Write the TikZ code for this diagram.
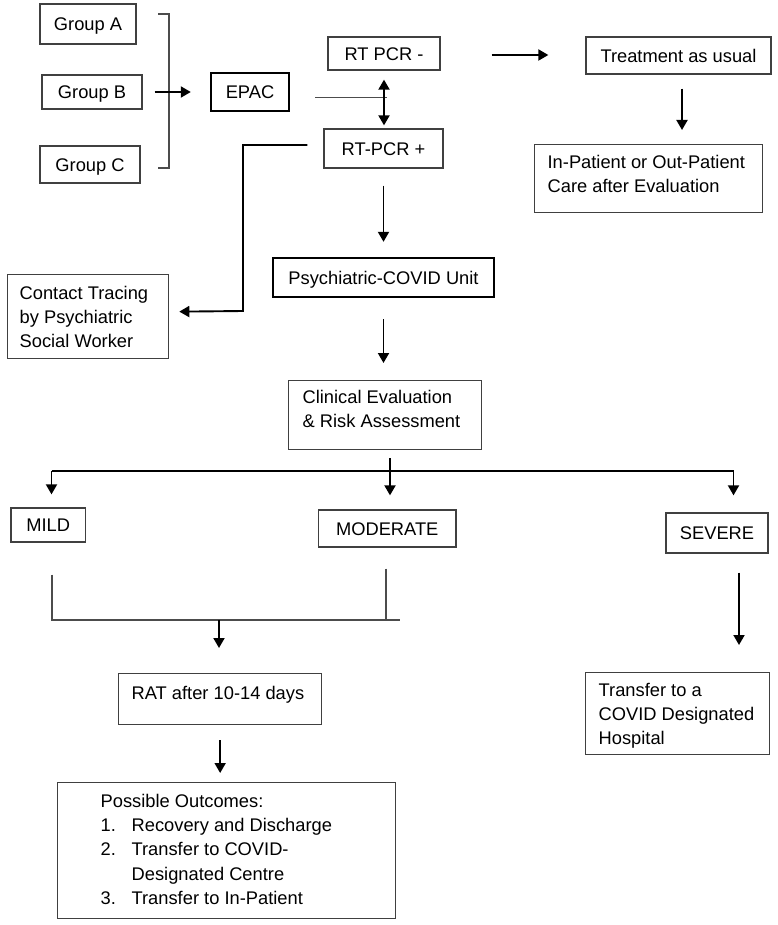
\documentclass[tikz,border=0pt]{standalone}
\usepackage{fontspec}
\setmainfont{Liberation Sans}
\usetikzlibrary{arrows.meta}
\newcommand\bxt[5]{\parbox[c][#2][t]{#1}{\raggedright\leftskip=#4\relax\vspace*{#3}#5}}
\tikzset{
  box/.style={draw=black!75, line width=1.3pt, font=\fontsize{18.3}{24.3}\selectfont, inner sep=0pt},
  cbox/.style={box, text height=13.1pt, text depth=0pt},
  tbox/.style={cbox, draw=black, line width=2.4pt},
  arr/.style={line width=1.9pt, -{Triangle[length=10pt,width=11pt]}},
  dblarr/.style={line width=1.9pt, {Triangle[length=10pt,width=11pt]}-{Triangle[length=10pt,width=11pt]}},
  gline/.style={draw=black!70, line width=1.3pt},
  bline/.style={line width=1.9pt},
}
\begin{document}
\begin{tikzpicture}[x=1pt,y=-1pt]
\useasboundingbox (0,0) rectangle (777,925);
% nodes
\node[cbox, minimum width=96pt, minimum height=40pt] (gA) at (88,24) {Group A};
\node[cbox, minimum width=100pt, minimum height=34pt] (gB) at (92,92) {Group B};
\node[cbox, minimum width=100pt, minimum height=37pt] (gC) at (90,164.5) {Group C};
\node[tbox, minimum width=78pt, minimum height=38pt] (epac) at (250,92) {EPAC};
\node[cbox, minimum width=112pt, minimum height=33pt] (rtneg) at (384,53.5) {RT PCR -};
\node[cbox, minimum width=119pt, minimum height=39pt] (rtpos) at (383.5,148.5) {RT-PCR +};
\node[cbox, minimum width=185pt, minimum height=37pt] (treat) at (678.5,55.5) {Treatment as usual};
\node[box, anchor=north west] (inout) at (534,144) {\bxt{228pt}{68pt}{7pt}{13pt}{\strut In-Patient or Out-Patient\\\strut Care after Evaluation}};
\node[box, anchor=north west] (contact) at (7,274) {\bxt{161pt}{84pt}{7.5pt}{12pt}{\strut Contact Tracing\\\strut by Psychiatric\\\strut Social Worker}};
\node[tbox, minimum width=221pt, minimum height=39pt] (psych) at (383.5,277.5) {Psychiatric-COVID Unit};
\node[box, anchor=north west] (clin) at (288,380) {\bxt{193pt}{69pt}{6pt}{14pt}{\strut Clinical Evaluation\\\strut\& Risk Assessment}};
\node[cbox, minimum width=74.5pt, minimum height=34pt] (mild) at (48.25,525) {MILD};
\node[cbox, minimum width=137.5pt, minimum height=37pt] (mod) at (387.25,528.5) {MODERATE};
\node[cbox, minimum width=102pt, minimum height=40pt] (severe) at (717,533) {SEVERE};
\node[box, anchor=north west] (rat) at (118,673) {\bxt{203pt}{51pt}{8.5pt}{13pt}{\strut RAT after 10-14 days}};
\node[box, anchor=north west] (outc) at (57,782) {\bxt{338pt}{136pt}{7.5pt}{43pt}{\strut Possible Outcomes:\\\strut\makebox[31pt][l]{1.}Recovery and Discharge\\\strut\makebox[31pt][l]{2.}Transfer to COVID-\\\strut\hspace*{31pt}Designated Centre\\\strut\makebox[31pt][l]{3.}Transfer to In-Patient}};
\node[box, anchor=north west] (transfer) at (585,672) {\bxt{184pt}{82pt}{6.5pt}{13pt}{\strut Transfer to a\\\strut COVID Designated\\\strut Hospital}};
% coordinates
\coordinate (br1) at (158,14);
\coordinate (br2) at (169,14);
\coordinate (br3) at (169,168);
\coordinate (br4) at (158,168);
\coordinate (cbend) at (243,311);
\coordinate (hub) at (390,471);
\coordinate (h1) at (51.5,471);
\coordinate (h3) at (733.5,471);
\coordinate (j1) at (52,620);
\coordinate (j2) at (386,620);
\coordinate (j3) at (400,620);
\coordinate (jm) at (219,620);
\coordinate (s1) at ([xshift=22pt]severe.south);
\coordinate (t1) at ([xshift=3.5pt]treat.south);
% connectors
\draw[gline] (br1) -- (br2) -- (br3) -- (br4);
\draw[arr, shorten <=12pt, shorten >=19pt] (gB.east) -- (epac.west);
\draw[draw=black!70, line width=1pt] ([shift={(25pt,-6pt)}]epac.east) -- ++(72pt,0pt);
\draw[dblarr, shorten <=9pt, shorten >=3pt] (rtneg.south) -- (rtneg.south |- rtpos.north);
\draw[arr, shorten <=51pt, shorten >=37pt] ([yshift=-1.5pt]rtneg.east) -- ([yshift=-1.5pt]rtneg.east -| treat.west);
\draw[arr, shorten <=14pt, shorten >=14pt] (t1) -- (t1 |- inout.north);
\draw[arr] ([shift={(-16pt,3.5pt)}]rtpos.west) -| (cbend) -- ([shift={(10pt,5pt)}]contact.east);
\draw[arr, shorten <=17pt, shorten >=15pt] (rtpos.south) -- (psych.north);
\draw[arr, shorten <=21pt, shorten >=17pt] (psych.south) -- (psych.south |- clin.north);
\draw[bline] (hub |- clin.south) ++(0,8) -- (hub);
\draw[bline] (h1) -- (h3);
\draw[arr, shorten >=13pt] (h1) -- (h1 |- mild.north);
\draw[arr, shorten >=14pt] (hub) -- (hub |- mod.north);
\draw[arr, shorten >=17pt] (h3) -- (h3 |- severe.north);
\draw[gline] (mild.south -| j1) ++(0,32) -- (j1) -- (j3);
\draw[gline] (mod.south -| j2) ++(0,21) -- (j2);
\draw[arr, shorten >=25pt] (jm) -- (jm |- rat.north);
\draw[arr, shorten >=27pt] (s1) ++(0,19) -- (s1 |- transfer.north);
\draw[arr, shorten >=9pt] (rat.south) ++(0,15) -- (rat.south |- outc.north);
\end{tikzpicture}
\end{document}
